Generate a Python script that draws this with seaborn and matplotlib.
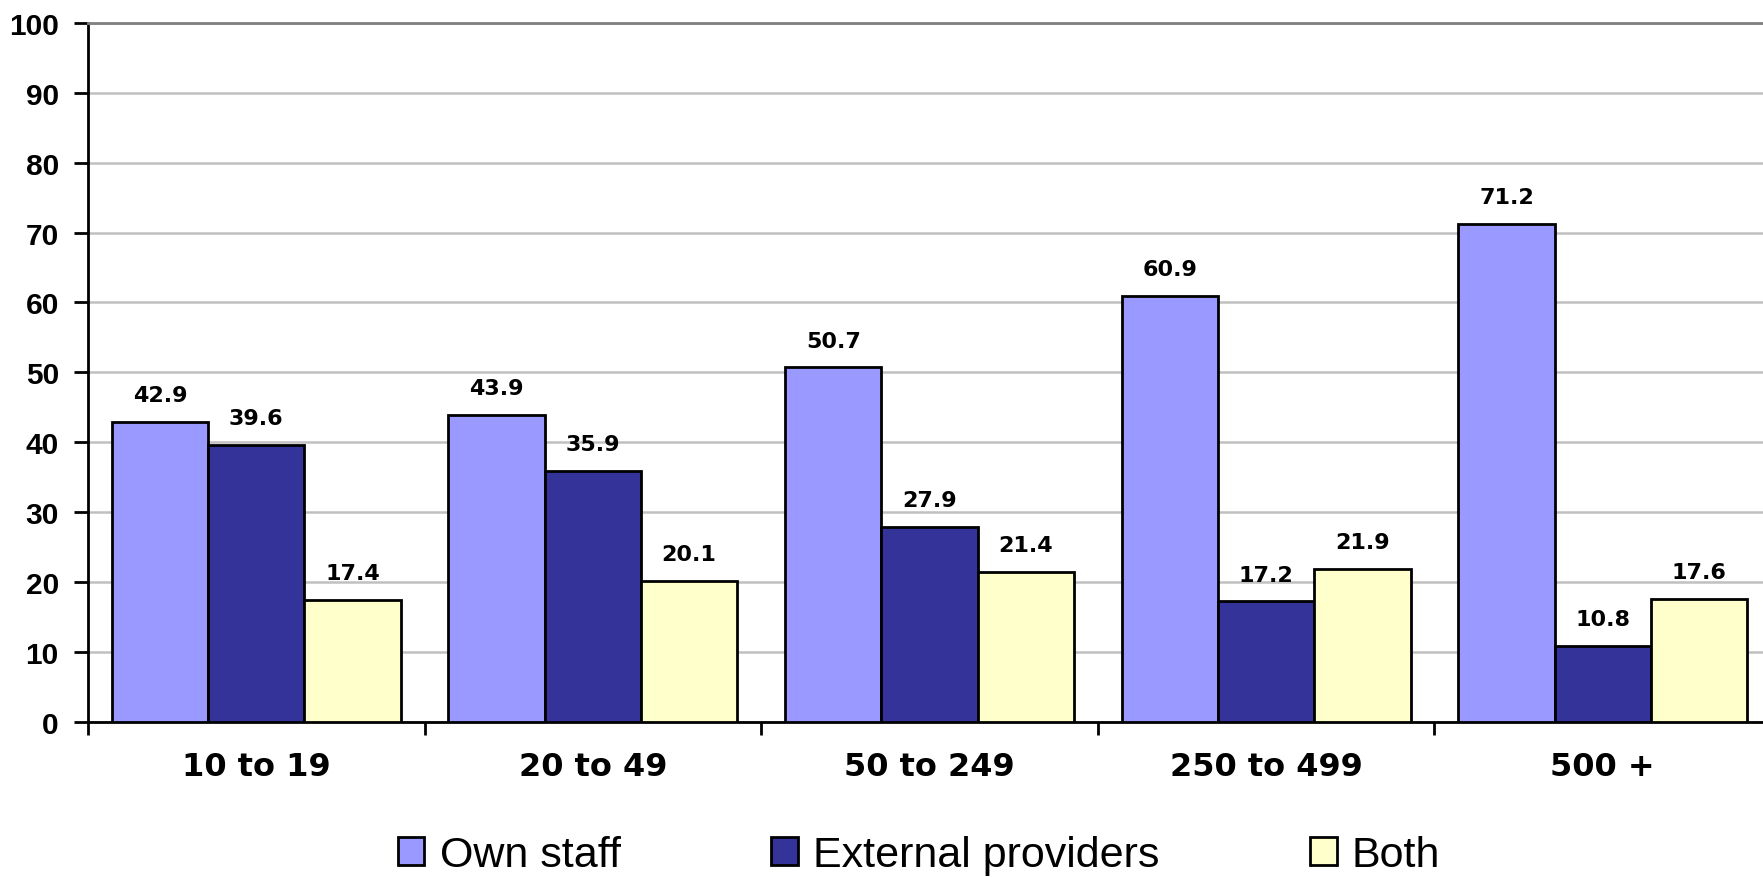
import matplotlib
matplotlib.use("Agg")
import matplotlib.pyplot as plt
from matplotlib.patches import Patch
import pandas as pd
import seaborn as sns

# Company size classes and share (%) of enterprises by who performs the work
categories = ["10 to 19", "20 to 49", "50 to 249", "250 to 499", "500 +"]
series_names = ["Own staff", "External providers", "Both"]
own_staff = [42.9, 43.9, 50.7, 60.9, 71.2]
external_providers = [39.6, 35.9, 27.9, 17.2, 10.8]
both = [17.4, 20.1, 21.4, 21.9, 17.6]
y_ticks = [0, 10, 20, 30, 40, 50, 60, 70, 80, 90, 100]

colors = ["#9999FF", "#333399", "#FFFFCC"]

rows = []
for name, vals in zip(series_names, [own_staff, external_providers, both]):
    for cat, v in zip(categories, vals):
        rows.append({"size": cat, "series": name, "value": v})
df = pd.DataFrame(rows)

sns.set_style("white")
plt.rcParams["font.family"] = ["DejaVu Sans"]
plt.rcParams["text.color"] = "black"
plt.rcParams["xtick.color"] = "black"
plt.rcParams["ytick.color"] = "black"
plt.rcParams["axes.labelcolor"] = "black"

W, H = 1763, 878
fig = plt.figure(figsize=(W / 100, H / 100), dpi=100)
ax = fig.add_axes([88 / W, 1 - 722.5 / H, 1683 / W, (722.5 - 24) / H])

sns.barplot(data=df, x="size", y="value", hue="series", order=categories,
            hue_order=series_names, palette=colors, width=0.858,
            edgecolor="black", linewidth=2.0, saturation=1, ax=ax, legend=False,
            errorbar=None, zorder=3)

ax.set_xlim(-0.5, len(categories) - 0.5)
ax.set_ylim(0, 100)
ax.set_yticks(y_ticks)
ax.set_yticklabels([str(t) for t in y_ticks], fontfamily="Liberation Sans",
                   fontweight="bold", fontsize=21.5, color="black")
ax.yaxis.grid(True, color="#C0C0C0", linewidth=1.8, zorder=0)
ax.set_axisbelow(True)

# Category labels at group centres, tick marks at group boundaries
ax.set_xticks(range(len(categories)))
ax.set_xticklabels(categories, fontweight="bold", fontsize=23, color="black")
ax.set_xticks([i - 0.5 for i in range(len(categories) + 1)], minor=True)
ax.tick_params(axis="x", which="major", length=0, pad=21)
ax.tick_params(axis="x", which="minor", length=9, width=2, color="black",
               direction="out", bottom=True)
ax.tick_params(axis="y", which="major", length=10, width=2, color="black",
               direction="out", left=True, pad=11)

ax.set_xlabel("")
ax.set_ylabel("")
for side in ["left", "bottom"]:
    ax.spines[side].set_color("black")
    ax.spines[side].set_linewidth(2)
ax.spines["top"].set_color("#808080")
ax.spines["top"].set_linewidth(2)
ax.spines["right"].set_visible(False)

# Value labels above each bar
for container in ax.containers:
    for bar in container:
        h = bar.get_height()
        ax.annotate(f"{h:.1f}", (bar.get_x() + bar.get_width() / 2, h),
                    xytext=(0, 15), textcoords="offset points",
                    ha="center", va="baseline", fontsize=16,
                    fontweight="bold", color="black")

handles = [Patch(facecolor=c, edgecolor="black", linewidth=2) for c in colors]
fig.legend(handles, series_names, loc="center", ncol=3,
           bbox_to_anchor=(919 / W, 1 - 856 / H), frameon=False,
           prop={"family": "Liberation Sans", "size": 31},
           handlelength=0.62, handleheight=0.62, handletextpad=0.35,
           columnspacing=3.5, borderpad=0)

fig.savefig("out.png", dpi=100)
